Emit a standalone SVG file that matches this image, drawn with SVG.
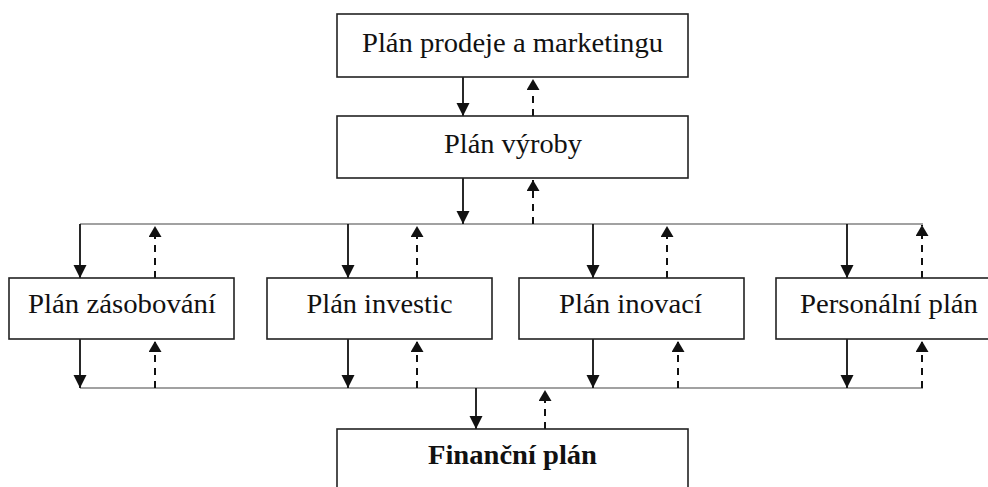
<svg xmlns="http://www.w3.org/2000/svg" width="988" height="487" viewBox="0 0 988 487">
<style>
.box{fill:#fff;stroke:#222;stroke-width:1.6}
.t{font-family:"Liberation Serif","Times New Roman",serif;font-size:27px;fill:#111;text-anchor:middle}
.b{font-weight:bold}
.solid{stroke:#111;stroke-width:1.8;fill:none}
.dash{stroke:#111;stroke-width:2;fill:none;stroke-dasharray:7 6}
.bus{stroke:#444;stroke-width:1.2;fill:none}
</style>
<defs>
<marker id="ah" markerUnits="userSpaceOnUse" markerWidth="14" markerHeight="14" refX="13" refY="6.5" orient="auto"><path d="M0,0 L13,6.5 L0,13 z" fill="#111"/></marker>
<marker id="ahd" markerUnits="userSpaceOnUse" markerWidth="14" markerHeight="14" refX="11" refY="6.5" orient="auto"><path d="M0,0 L11,6.5 L0,13 z" fill="#111"/></marker>
</defs>
<rect width="988" height="487" fill="#fff"/>
<g id="connectors">
<line class="bus" x1="80" y1="224" x2="923" y2="224"/>
<line class="bus" x1="80" y1="388" x2="923" y2="388"/>
<line class="solid" x1="463" y1="77" x2="463" y2="116" marker-end="url(#ah)"/>
<line class="dash" x1="533" y1="116" x2="533" y2="79" marker-end="url(#ahd)"/>
<line class="solid" x1="463" y1="178" x2="463" y2="224" marker-end="url(#ah)"/>
<line class="dash" x1="533" y1="224" x2="533" y2="180" marker-end="url(#ahd)"/>
<line class="solid" x1="80" y1="224" x2="80" y2="278" marker-end="url(#ah)"/>
<line class="dash" x1="155" y1="278" x2="155" y2="226" marker-end="url(#ahd)"/>
<line class="solid" x1="348" y1="224" x2="348" y2="278" marker-end="url(#ah)"/>
<line class="dash" x1="417" y1="278" x2="417" y2="226" marker-end="url(#ahd)"/>
<line class="solid" x1="593" y1="224" x2="593" y2="278" marker-end="url(#ah)"/>
<line class="dash" x1="667" y1="278" x2="667" y2="226" marker-end="url(#ahd)"/>
<line class="solid" x1="847" y1="224" x2="847" y2="278" marker-end="url(#ah)"/>
<line class="dash" x1="922" y1="278" x2="922" y2="225" marker-end="url(#ahd)"/>
<line class="solid" x1="80" y1="339" x2="80" y2="388" marker-end="url(#ah)"/>
<line class="dash" x1="155" y1="388" x2="155" y2="341" marker-end="url(#ahd)"/>
<line class="solid" x1="348" y1="339" x2="348" y2="388" marker-end="url(#ah)"/>
<line class="dash" x1="417" y1="388" x2="417" y2="341" marker-end="url(#ahd)"/>
<line class="solid" x1="593" y1="339" x2="593" y2="388" marker-end="url(#ah)"/>
<line class="dash" x1="678" y1="388" x2="678" y2="341" marker-end="url(#ahd)"/>
<line class="solid" x1="847" y1="339" x2="847" y2="388" marker-end="url(#ah)"/>
<line class="dash" x1="922" y1="388" x2="922" y2="341" marker-end="url(#ahd)"/>
<line class="solid" x1="476" y1="388" x2="476" y2="429" marker-end="url(#ah)"/>
<line class="dash" x1="545" y1="429" x2="545" y2="390" marker-end="url(#ahd)"/>
</g>
<g id="n-marketing"><rect class="box" x="337" y="14" width="351" height="63"/><text class="t" x="512.5" y="52" textLength="301" lengthAdjust="spacingAndGlyphs">Plán prodeje a marketingu</text></g>
<g id="n-vyroba"><rect class="box" x="337" y="116" width="351" height="62"/><text class="t" x="513" y="153" textLength="138" lengthAdjust="spacingAndGlyphs">Plán výroby</text></g>
<g id="n-zasobovani"><rect class="box" x="9" y="278" width="225" height="61"/><text class="t" x="122" y="313" textLength="188" lengthAdjust="spacingAndGlyphs">Plán zásobování</text></g>
<g id="n-investic"><rect class="box" x="267" y="278" width="225" height="61"/><text class="t" x="379.5" y="313" textLength="146" lengthAdjust="spacingAndGlyphs">Plán investic</text></g>
<g id="n-inovaci"><rect class="box" x="519" y="278" width="225" height="61"/><text class="t" x="630.5" y="313" textLength="143" lengthAdjust="spacingAndGlyphs">Plán inovací</text></g>
<g id="n-personalni"><rect class="box" x="776" y="278" width="226" height="61"/><text class="t" x="889" y="313" textLength="178" lengthAdjust="spacingAndGlyphs">Personální plán</text></g>
<g id="n-financni"><rect class="box" x="337" y="429" width="351" height="70"/><text class="t b" x="512.5" y="464" textLength="169" lengthAdjust="spacingAndGlyphs">Finanční plán</text></g>
</svg>
